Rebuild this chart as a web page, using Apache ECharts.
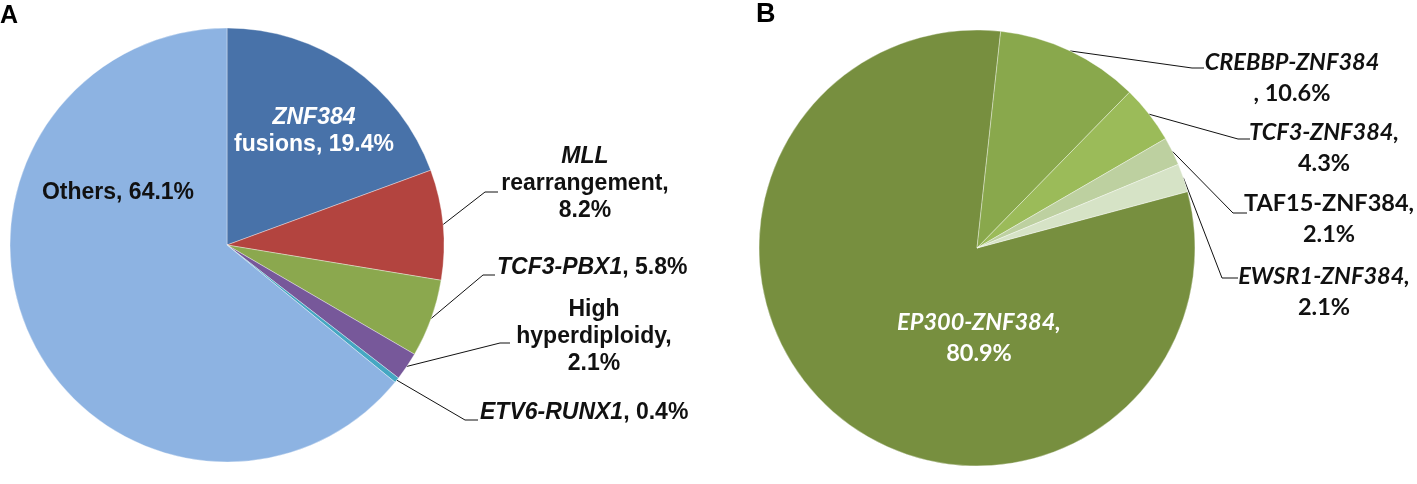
<!DOCTYPE html>
<html>
<head>
<meta charset="utf-8">
<script src="https://cdn.jsdelivr.net/npm/echarts@6/dist/echarts.min.js"></script>
<style>
html,body{margin:0;padding:0;background:#fff;}
#chart{width:1417px;height:484px;}
</style>
</head>
<body>
<div id="chart"></div>
<script>
// ---- Data: panel A ----
const namesA = ['ZNF384 fusions', 'MLL rearrangement', 'TCF3-PBX1', 'High hyperdiploidy', 'ETV6-RUNX1', 'Others'];
const valuesA = [19.4, 8.2, 5.8, 2.1, 0.4, 64.1];
// ---- Data: panel B ----
const namesB = ['EP300-ZNF384', 'CREBBP-ZNF384', 'TCF3-ZNF384', 'TAF15-ZNF384', 'EWSR1-ZNF384'];
const valuesB = [80.9, 10.6, 4.3, 2.1, 2.1];
const panelLetters = ['A', 'B'];

// ---- Styles ----
const colorsA = ['#4872a9', '#b3443f', '#8ba84e', '#77589a', '#45a7c2', '#8db3e2'];
const colorsB = ['#778f3f', '#89a84c', '#9bbb59', '#bdd0a0', '#d6e3c6'];

const fa = '"Liberation Sans", Arial, sans-serif';
const fb = 'Lato, "Open Sans", sans-serif';
const richA = {
  b: {fontFamily: fa, fontWeight: 'bold', fontSize: 23, lineHeight: 27, color: '#111'},
  i: {fontFamily: fa, fontWeight: 'bold', fontStyle: 'italic', fontSize: 23, lineHeight: 27, color: '#111'},
  w: {fontFamily: fa, fontWeight: 'bold', fontSize: 23, lineHeight: 27, color: '#fff'},
  wi: {fontFamily: fa, fontWeight: 'bold', fontStyle: 'italic', fontSize: 23, lineHeight: 27, color: '#fff'}
};
const richB = {
  b: {fontFamily: fb, fontWeight: 'bold', fontSize: 23.5, lineHeight: 31, color: '#111'},
  i: {fontFamily: fb, fontWeight: 'bold', fontStyle: 'italic', fontSize: 23.5, lineHeight: 31, color: '#111'},
  w: {fontFamily: fb, fontWeight: 'bold', fontSize: 23.5, lineHeight: 31, color: '#fff'},
  wi: {fontFamily: fb, fontWeight: 'bold', fontStyle: 'italic', fontSize: 23.5, lineHeight: 31, color: '#fff'}
};

const pct = v => v.toFixed(1) + '%';
const textA = [
  (n, v) => `{wi|${n.split(' ')[0]}}\n{w|${n.split(' ')[1]}, ${pct(v)}}`,
  (n, v) => `{i|${n.split(' ')[0]}}\n{b|${n.split(' ')[1]},}\n{b|${pct(v)}}`,
  (n, v) => `{i|${n}}{b|, ${pct(v)}}`,
  (n, v) => `{b|${n.split(' ')[0]}}\n{b|${n.split(' ')[1]},}\n{b|${pct(v)}}`,
  (n, v) => `{i|${n}}{b|, ${pct(v)}}`,
  (n, v) => `{b|${n}, ${pct(v)}}`
];
const textB = [
  (n, v) => `{wi|${n},}\n{w|${pct(v)}}`,
  (n, v) => `{i|${n}}\n{b|, ${pct(v)}}`,
  (n, v) => `{i|${n},}\n{b|${pct(v)}}`,
  (n, v) => `{b|${n},}\n{b|${pct(v)}}`,
  (n, v) => `{i|${n},}\n{b|${pct(v)}}`
];

// label placement (layout only): [x, y, align, elbow, end]
const placeA = [
  [314, 131, 'center', null, null],
  [585, 184, 'center', [485, 192], [498, 192]],
  [497, 268, 'left', [483, 275], [495, 275]],
  [594, 337, 'center', [500, 343], [510, 343]],
  [480, 413, 'left', [465, 420], [478, 420]],
  [118, 193, 'center', null, null]
];
const placeB = [
  [979, 338, 'center', null, null],
  [1292, 78, 'center', [1192, 68], [1204, 68]],
  [1324, 148, 'center', [1238, 139], [1250, 139]],
  [1329, 219, 'center', [1233, 213], [1247, 213]],
  [1324, 292, 'center', [1222, 278], [1238, 278]]
];

function buildData(names, values, colors, texts, place) {
  return names.map((n, i) => ({
    name: n,
    value: values[i],
    itemStyle: {color: colors[i]},
    label: {
      position: place[i][3] ? 'outside' : 'inside',
      formatter: () => texts[i](n, values[i])
    },
    labelLine: {show: !!place[i][3]}
  }));
}

function layoutFor(place) {
  return function (p) {
    const pl = place[p.dataIndex];
    const out = {x: pl[0], y: pl[1], align: pl[2], verticalAlign: 'middle', hideOverlap: false, moveOverlap: false};
    if (pl[3] && p.labelLinePoints) {
      out.labelLinePoints = [p.labelLinePoints[0], pl[3], pl[4]];
    }
    return out;
  };
}

const chart = echarts.init(document.getElementById('chart'), null, {renderer: 'canvas'});
chart.setOption({
  backgroundColor: '#fff',
  animation: false,
  title: [
    {text: panelLetters[0], left: 0, top: 4, padding: 0, textStyle: {fontFamily: fa, fontWeight: 'bold', fontSize: 25, color: '#000'}},
    {text: panelLetters[1], left: 756, top: 1, padding: 0, textStyle: {fontFamily: fa, fontWeight: 'bold', fontSize: 27, color: '#000'}}
  ],
  series: [
    {
      type: 'pie',
      center: [227, 245],
      radius: [0, 217],
      startAngle: 90,
      clockwise: true,
      avoidLabelOverlap: false,
      itemStyle: {borderColor: 'rgba(255,255,255,0.45)', borderWidth: 0.8},
      label: {show: true, rich: richA},
      labelLine: {lineStyle: {color: '#111', width: 1}},
      labelLayout: layoutFor(placeA),
      emphasis: {disabled: true},
      data: buildData(namesA, valuesA, colorsA, textA, placeA)
    },
    {
      type: 'pie',
      center: [977, 248],
      radius: [0, 218],
      startAngle: 15,
      clockwise: true,
      avoidLabelOverlap: false,
      itemStyle: {borderColor: 'rgba(255,255,255,0.45)', borderWidth: 0.8},
      label: {show: true, rich: richB},
      labelLine: {lineStyle: {color: '#111', width: 1}},
      labelLayout: layoutFor(placeB),
      emphasis: {disabled: true},
      data: buildData(namesB, valuesB, colorsB, textB, placeB)
    }
  ]
});
</script>
</body>
</html>
